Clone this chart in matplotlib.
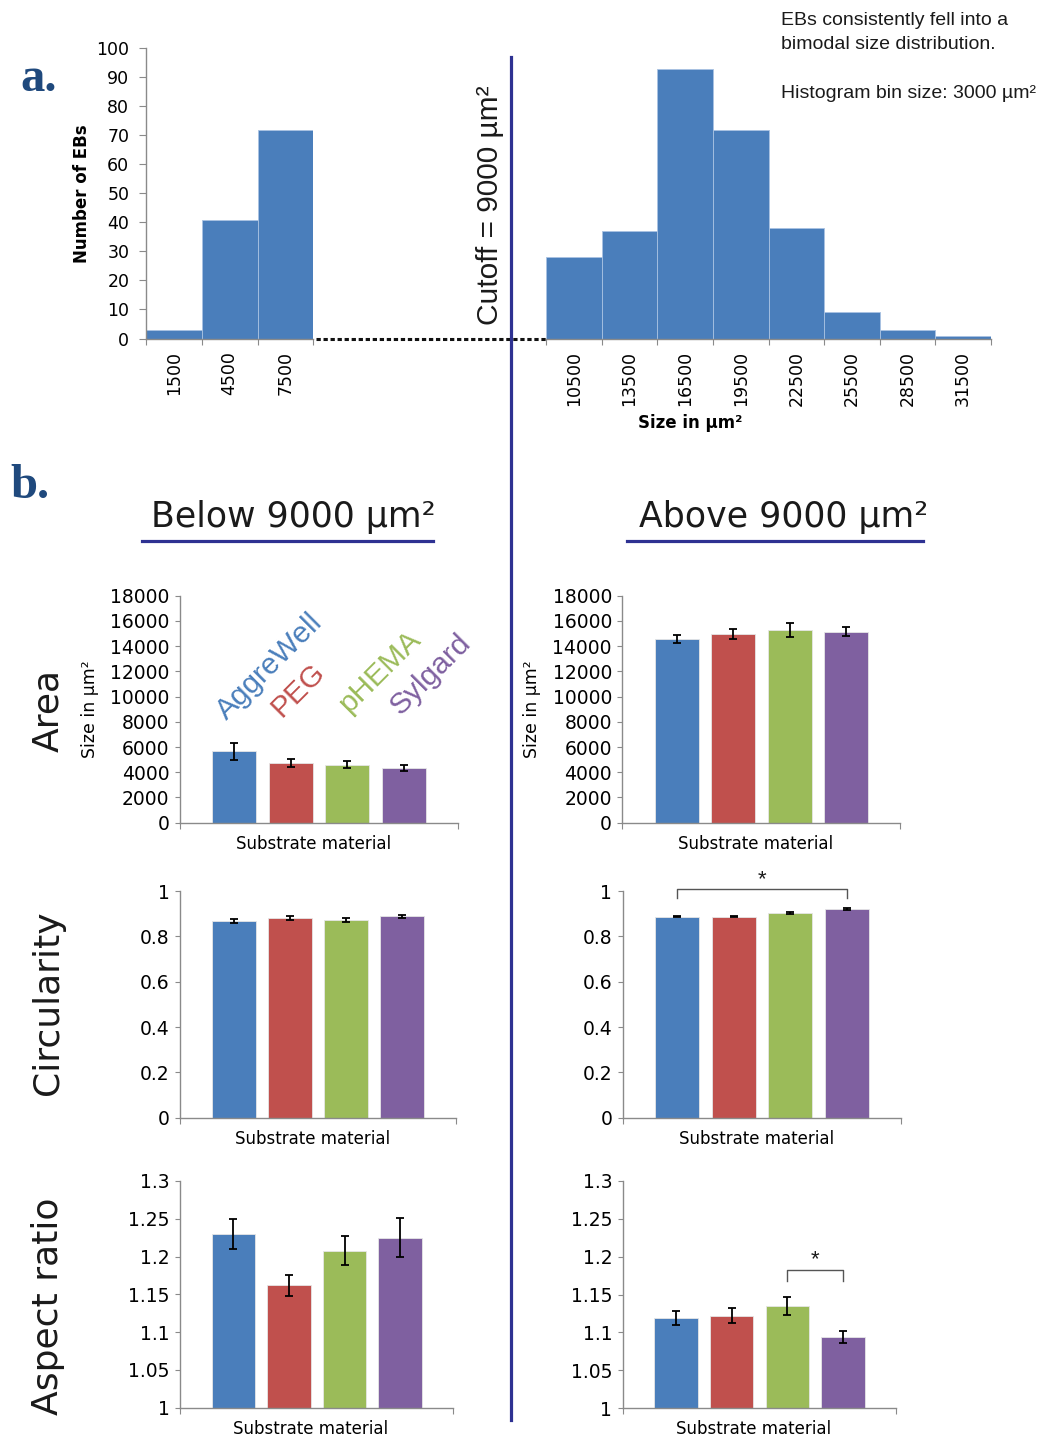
import matplotlib
matplotlib.use("Agg")
import matplotlib.pyplot as plt
from matplotlib.lines import Line2D
import numpy as np

# ---- data -------------------------------------------------------------
bin_width = 3000
small_bins = [1500, 4500, 7500]
small_counts = [3, 41, 72]
large_bins = [10500, 13500, 16500, 19500, 22500, 25500, 28500, 31500]
large_counts = [28, 37, 93, 72, 38, 9, 3, 1]

materials = ["AggreWell", "PEG", "pHEMA", "Sylgard"]

area_below = [5650, 4750, 4600, 4350]
area_below_err = [650, 320, 280, 260]
area_above = [14600, 14950, 15250, 15150]
area_above_err = [320, 420, 550, 380]

circ_below = [0.868, 0.881, 0.871, 0.888]
circ_below_err = [0.008, 0.009, 0.008, 0.007]
circ_above = [0.887, 0.887, 0.902, 0.922]
circ_above_err = [0.003, 0.003, 0.005, 0.004]

aspect_below = [1.230, 1.162, 1.208, 1.225]
aspect_below_err = [0.020, 0.014, 0.019, 0.026]
aspect_above = [1.119, 1.122, 1.135, 1.094]
aspect_above_err = [0.009, 0.010, 0.012, 0.0075]

area_ticks = [0, 2000, 4000, 6000, 8000, 10000, 12000, 14000, 16000, 18000]
circ_ticks = [0, 0.2, 0.4, 0.6, 0.8, 1]
aspect_ticks = [1, 1.05, 1.1, 1.15, 1.2, 1.25, 1.3]
hist_ticks = [0, 10, 20, 30, 40, 50, 60, 70, 80, 90, 100]

# ---- style ------------------------------------------------------------
W, H = 1045, 1439
hist_color = "#4A7EBB"
bar_colors = ["#4A7EBB", "#C0504D", "#9BBB59", "#7F60A0"]
axis_gray = "#8a8a8a"
navy = "#2E3192"
label_blue = "#1F497D"
XLIM = (-0.96, 3.95)

plt.rcParams.update({"font.family": "DejaVu Sans", "text.color": "#1a1a1a"})

fig = plt.figure(figsize=(W / 100, H / 100), dpi=100)


def px_axes(left, top, right, bottom):
    return fig.add_axes([left / W, 1 - bottom / H, (right - left) / W, (bottom - top) / H])


def fx(x):
    return x / W


def fy(y):
    return 1 - y / H


def style_spines(ax, left=True):
    for side in ["top", "right"]:
        ax.spines[side].set_visible(False)
    ax.spines["left"].set_visible(left)
    for side in ["left", "bottom"]:
        ax.spines[side].set_color(axis_gray)
        ax.spines[side].set_linewidth(1.0)


def histogram(ax, centers, counts, lo, hi, show_y):
    ax.bar(centers, counts, width=bin_width, color=hist_color,
           edgecolor="#a9c2e2", linewidth=0.6)
    ax.set_xlim(lo, hi)
    ax.set_ylim(0, 100)
    style_spines(ax, left=show_y)
    ax.set_xticks(np.arange(lo, hi + 1, bin_width))
    ax.set_xticklabels([])
    ax.set_xticks(centers, minor=True)
    ax.set_xticklabels([str(c) for c in centers], minor=True, rotation=90,
                       fontsize=12.5)
    ax.tick_params(axis="x", which="major", direction="out", length=4,
                   color=axis_gray)
    ax.tick_params(axis="x", which="minor", length=0, pad=9)
    if show_y:
        ax.set_yticks(hist_ticks)
        ax.set_yticklabels([str(t) for t in hist_ticks], fontsize=12.5)
        ax.tick_params(axis="y", direction="out", length=5, color=axis_gray, pad=7)
    else:
        ax.set_yticks([])


def bar_panel(ax, values, errors, ylim, ticks, height_px, ylabel=False):
    x = np.arange(len(values))
    ax.bar(x, values, width=0.78, color=bar_colors, edgecolor="#e6e6e6",
           linewidth=0.6, zorder=2)
    ax.errorbar(x, values, yerr=errors, fmt="none", ecolor="black",
                elinewidth=1.3, capsize=2.6, capthick=1.3, zorder=3)
    ax.set_xlim(*XLIM)
    ax.set_ylim(*ylim)
    style_spines(ax)
    ax.set_yticks(ticks)
    ax.set_yticklabels([f"{t:g}" for t in ticks], fontsize=13.5)
    ax.set_xticks(list(XLIM))
    ax.set_xticklabels([])
    ax.tick_params(axis="x", direction="out", length=4.5, color=axis_gray)
    ax.tick_params(axis="y", direction="out", length=3.5, color=axis_gray, pad=4)
    ax.set_xlabel("Substrate material", fontsize=12, va="center")
    ax.xaxis.set_label_coords(0.48, -21 / height_px)
    if ylabel:
        ax.set_ylabel("Size in µm²", fontsize=12.5, va="center")
        ax.yaxis.set_label_coords(-0.325, 0.5)


def bracket(ax, x0, x1, y_top, y_bot, star_y):
    ax.plot([x0, x0, x1, x1], [y_bot, y_top, y_top, y_bot], color="#555555",
            lw=1.0, clip_on=False, zorder=4)
    ax.text((x0 + x1) / 2, star_y, "*", ha="center", va="center", fontsize=16,
            family="Liberation Sans", clip_on=False)


# ---- panel a: histogram -------------------------------------------------
ax_hl = px_axes(146, 48.3, 313.3, 338.5)
histogram(ax_hl, small_bins, small_counts, 0, 9000, True)
ax_hl.set_ylabel("Number of EBs", fontsize=12, fontweight="bold", va="center")
ax_hl.yaxis.set_label_coords(-0.385, 0.5)

ax_hr = px_axes(546, 48.3, 991, 338.5)
histogram(ax_hr, large_bins, large_counts, 9000, 33000, False)
ax_hr.set_xlabel("Size in µm²", fontsize=12, fontweight="bold", va="center")
ax_hr.xaxis.set_label_coords(0.324, -(423 - 338.5) / 290)

# dotted connector and cutoff separator
fig.add_artist(Line2D([fx(316), fx(546)], [fy(338.5), fy(338.5)], color="#111111",
                      lw=2.2, dashes=(1.4, 0.9)))
fig.add_artist(Line2D([fx(511), fx(511)], [fy(57), fy(1420)], color=navy, lw=2.3))
fig.text(fx(490), fy(205), "Cutoff = 9000 µm²", rotation=90, ha="center",
         va="center", fontsize=21.5, family="Liberation Sans")

fig.text(fx(781), fy(25), "EBs consistently fell into a", fontsize=14,
         family="Liberation Sans", va="baseline")
fig.text(fx(781), fy(49), "bimodal size distribution.", fontsize=14,
         family="Liberation Sans", va="baseline")
fig.text(fx(781), fy(98), "Histogram bin size: 3000 µm²", fontsize=14,
         family="Liberation Sans", va="baseline")

fig.text(fx(20), fy(91), "a.", fontsize=35, fontweight="bold", color=label_blue,
         family="Liberation Serif", va="baseline")
fig.text(fx(10), fy(498), "b.", fontsize=35, fontweight="bold", color=label_blue,
         family="Liberation Serif", va="baseline")

# ---- panel b: headings ---------------------------------------------------
fig.text(fx(293), fy(527), "Below 9000 µm²", fontsize=25, ha="center", va="baseline")
fig.text(fx(784), fy(527), "Above 9000 µm²", fontsize=25, ha="center", va="baseline")
fig.add_artist(Line2D([fx(142), fx(433)], [fy(541), fy(541)], color=navy, lw=2.3))
fig.add_artist(Line2D([fx(627), fx(923)], [fy(541), fy(541)], color=navy, lw=2.3))

for text, y in [("Area", 710), ("Circularity", 1003), ("Aspect ratio", 1306)]:
    fig.text(fx(48), fy(y), text, rotation=90, fontsize=26, ha="center", va="center")

# ---- panel b: bar charts -------------------------------------------------
ax = px_axes(180, 595.7, 457.5, 822.7)
bar_panel(ax, area_below, area_below_err, (0, 18000), area_ticks, 227, ylabel=True)
ax = px_axes(622.3, 595.7, 900, 822.7)
bar_panel(ax, area_above, area_above_err, (0, 18000), area_ticks, 227, ylabel=True)

ax = px_axes(180, 891, 455.7, 1117.7)
bar_panel(ax, circ_below, circ_below_err, (0, 1), circ_ticks, 227)
ax = px_axes(622.7, 891, 900.7, 1117.7)
bar_panel(ax, circ_above, circ_above_err, (0, 1), circ_ticks, 227)
bracket(ax, 0, 3, 1.01, 0.969, 1.052)

ax = px_axes(180, 1181, 453, 1407.7)
bar_panel(ax, aspect_below, aspect_below_err, (1, 1.3), aspect_ticks, 227)
ax = px_axes(622.7, 1180.7, 895.7, 1408.3)
bar_panel(ax, aspect_above, aspect_above_err, (1, 1.3), aspect_ticks, 228)
bracket(ax, 2, 3, 1.182, 1.168, 1.196)

# rotated material labels above the "below" area chart
label_pos = [(227, 721), (282, 718), (349, 714), (400, 716)]
for name, color, (x, y) in zip(materials, bar_colors, label_pos):
    fig.text(fx(x), fy(y), name, rotation=45, rotation_mode="anchor", ha="left",
             va="baseline", fontsize=21.5, color=color, family="Liberation Sans")

fig.savefig("out.png", dpi=100)
